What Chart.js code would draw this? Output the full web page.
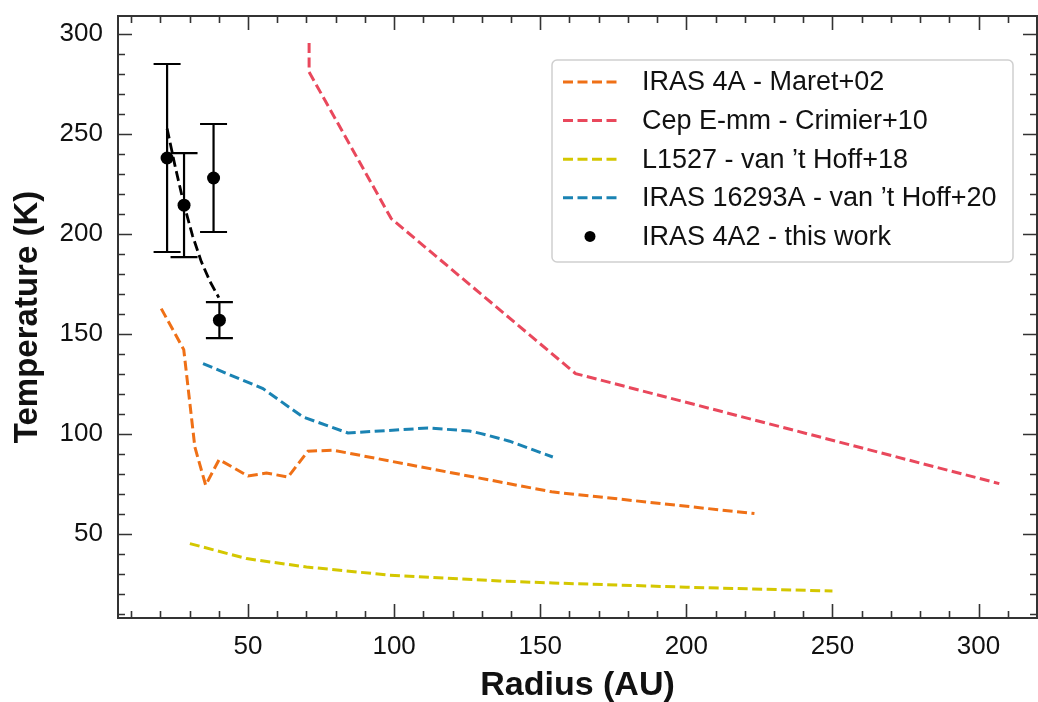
<!DOCTYPE html>
<html>
<head>
<meta charset="utf-8">
<script src="https://cdn.jsdelivr.net/npm/chart.js@4.4.1/dist/chart.umd.min.js"></script>
<style>
  html, body { margin: 0; padding: 0; background: #fff; }
  #wrap { width: 1038px; height: 702px; }
</style>
</head>
<body>
<div id="wrap"><canvas id="tempChart" width="1038" height="702"></canvas></div>
<script>
// radius (AU) / temperature (K)
const maretR = [20.3, 28, 31.8, 35.5, 40.1, 50, 56.3, 63.7, 70.5, 79.1, 153.9, 223.3];
const maretT = [162.5, 142, 93.3, 74.2, 87, 78.8, 80.3, 78.3, 91.2, 91.7, 70.9, 60];

const crimierR = [70.9, 70.9, 99, 162.1, 307.1];
const crimierT = [295.3, 280.8, 207.5, 130, 75];

const l1527R = [30.1, 49.5, 70, 98.5, 136.1, 154.3, 200, 250];
const l1527T = [45, 37.5, 33.3, 29.2, 26.3, 25.3, 23.2, 21.3];

const i16293R = [34.6, 55.1, 68.8, 84.2, 111.6, 125.8, 129.8, 139.5, 154.3];
const i16293T = [135, 122.5, 108.3, 100.3, 102.8, 101.3, 100, 96.2, 88.3];

const thisR = [22.3, 28.1, 38.2, 40.2];
const thisT = [237.8, 214.2, 227.8, 156.7];
const thisErr = [47, 26, 27, 9];

const fitR = [22.3, 25, 28, 31, 34, 37, 40];
const fitT = [252.5, 234, 215, 199, 186, 176, 168];

const xTicks = [50, 100, 150, 200, 250, 300];
const yTicks = [50, 100, 150, 200, 250, 300];

const FONT = "'Liberation Sans', Arial, Helvetica, sans-serif";
Chart.defaults.font.family = FONT;
Chart.defaults.color = '#111';

function pts(xs, ys) {
    return xs.map((v, i) => ({ x: v, y: ys[i] }));
}

function dashed(label, xs, ys, color) {
    return {
        label: label,
        data: pts(xs, ys),
        showLine: true,
        borderColor: color,
        backgroundColor: color,
        borderWidth: 3,
        borderDash: [10, 4.5],
        pointRadius: 0,
        fill: false
    };
}

const datasets = [
    dashed('IRAS 4A - Maret+02', maretR, maretT, '#ef7016'),
    dashed('Cep E-mm - Crimier+10', crimierR, crimierT, '#e9485c'),
    dashed('L1527 - van \u2019t Hoff+18', l1527R, l1527T, '#d4c700'),
    dashed('IRAS 16293A - van \u2019t Hoff+20', i16293R, i16293T, '#1a83b3'),
    {
        label: 'IRAS 4A2 - this work',
        data: pts(thisR, thisT),
        showLine: false,
        pointRadius: 6.5,
        pointBackgroundColor: '#000',
        pointBorderWidth: 0,
        backgroundColor: '#000',
        borderColor: '#000'
    },
    Object.assign(dashed('fit', fitR, fitT, '#000'), { borderWidth: 2.8, inLegend: false })
];

// error bars for the measured points
const errorBars = {
    id: 'errorBars',
    afterDatasetsDraw(chart) {
        const { ctx, scales: { x, y } } = chart;
        ctx.save();
        ctx.strokeStyle = '#000';
        ctx.lineWidth = 2.2;
        thisR.forEach((r, i) => {
            const px = x.getPixelForValue(r);
            const top = y.getPixelForValue(thisT[i] + thisErr[i]);
            const bot = y.getPixelForValue(thisT[i] - thisErr[i]);
            ctx.beginPath();
            ctx.moveTo(px, top); ctx.lineTo(px, bot);
            ctx.moveTo(px - 13.5, top); ctx.lineTo(px + 13.5, top);
            ctx.moveTo(px - 13.5, bot); ctx.lineTo(px + 13.5, bot);
            ctx.stroke();
        });
        ctx.restore();
    }
};

// frame with inward ticks on all four sides + legend box
const frame = {
    id: 'frame',
    afterDraw(chart) {
        const { ctx, chartArea: a, scales: { x, y } } = chart;
        ctx.save();
        ctx.strokeStyle = '#333';
        ctx.lineWidth = 2;
        ctx.strokeRect(a.left, a.top, a.right - a.left, a.bottom - a.top);

        ctx.lineWidth = 1.6;
        ctx.beginPath();
        for (let v = 10; v <= x.max; v += 10) {
            if (v < x.min) continue;
            const px = Math.round(x.getPixelForValue(v)) + 0.5;
            const len = v % 50 === 0 ? 14 : 7;
            ctx.moveTo(px, a.bottom); ctx.lineTo(px, a.bottom - len);
            ctx.moveTo(px, a.top); ctx.lineTo(px, a.top + len);
        }
        for (let v = 10; v <= y.max; v += 10) {
            if (v < y.min) continue;
            const py = Math.round(y.getPixelForValue(v)) + 0.5;
            const len = v % 50 === 0 ? 14 : 7;
            ctx.moveTo(a.left, py); ctx.lineTo(a.left + len, py);
            ctx.moveTo(a.right, py); ctx.lineTo(a.right - len, py);
        }
        ctx.stroke();

        // legend
        const bx = 552, by = 60, bw = 461, bh = 202;
        ctx.beginPath();
        ctx.roundRect(bx, by, bw, bh, 5);
        ctx.fillStyle = 'rgba(255,255,255,0.85)';
        ctx.fill();
        ctx.strokeStyle = '#cfcfcf';
        ctx.lineWidth = 1.5;
        ctx.stroke();

        ctx.font = '27px ' + FONT;
        ctx.textBaseline = 'middle';
        ctx.textAlign = 'left';
        const items = chart.data.datasets.filter(d => d.inLegend !== false);
        items.forEach((d, i) => {
            const ry = 82 + i * 38.6;
            if (d.showLine) {
                ctx.save();
                ctx.strokeStyle = d.borderColor;
                ctx.lineWidth = d.borderWidth;
                ctx.setLineDash(d.borderDash);
                ctx.beginPath();
                ctx.moveTo(563, ry); ctx.lineTo(617, ry);
                ctx.stroke();
                ctx.restore();
            } else {
                ctx.beginPath();
                ctx.fillStyle = '#000';
                ctx.arc(590, ry, 5.5, 0, Math.PI * 2);
                ctx.fill();
            }
            ctx.fillStyle = '#111';
            ctx.fillText(d.label, 642, ry + 1);
        });
        ctx.restore();
    }
};

const chart = new Chart(document.getElementById('tempChart').getContext('2d'), {
    type: 'scatter',
    data: { datasets: datasets },
    plugins: [errorBars, frame],
    options: {
        responsive: false,
        devicePixelRatio: 1,
        animation: false,
        layout: { autoPadding: false, padding: { top: 16, right: 1, left: 0, bottom: 0 } },
        plugins: {
            legend: { display: false },
            tooltip: { enabled: false }
        },
        scales: {
            x: {
                type: 'linear',
                min: 5.5,
                max: 320,
                grid: { display: false },
                border: { display: false },
                afterBuildTicks: s => { s.ticks = xTicks.map(v => ({ value: v })); },
                afterFit: s => { s.height = 84; s.paddingLeft = 0; s.paddingRight = 0; },
                ticks: { font: { size: 26 }, padding: 5, color: '#111', maxRotation: 0 },
                title: {
                    display: true,
                    text: 'Radius (AU)',
                    font: { size: 34, weight: 'bold' },
                    color: '#111',
                    padding: { top: 0, bottom: -4 }
                }
            },
            y: {
                type: 'linear',
                min: 7.8,
                max: 308.8,
                grid: { display: false },
                border: { display: false },
                afterBuildTicks: s => { s.ticks = yTicks.map(v => ({ value: v })); },
                afterFit: s => { s.width = 118; s.paddingTop = 0; s.paddingBottom = 0; },
                ticks: { font: { size: 26 }, padding: 7, color: '#111' },
                title: {
                    display: true,
                    text: 'Temperature (K)',
                    font: { size: 33, weight: 'bold' },
                    color: '#111',
                    padding: { top: 8, bottom: 0 }
                }
            }
        }
    }
});
</script>
</body>
</html>
